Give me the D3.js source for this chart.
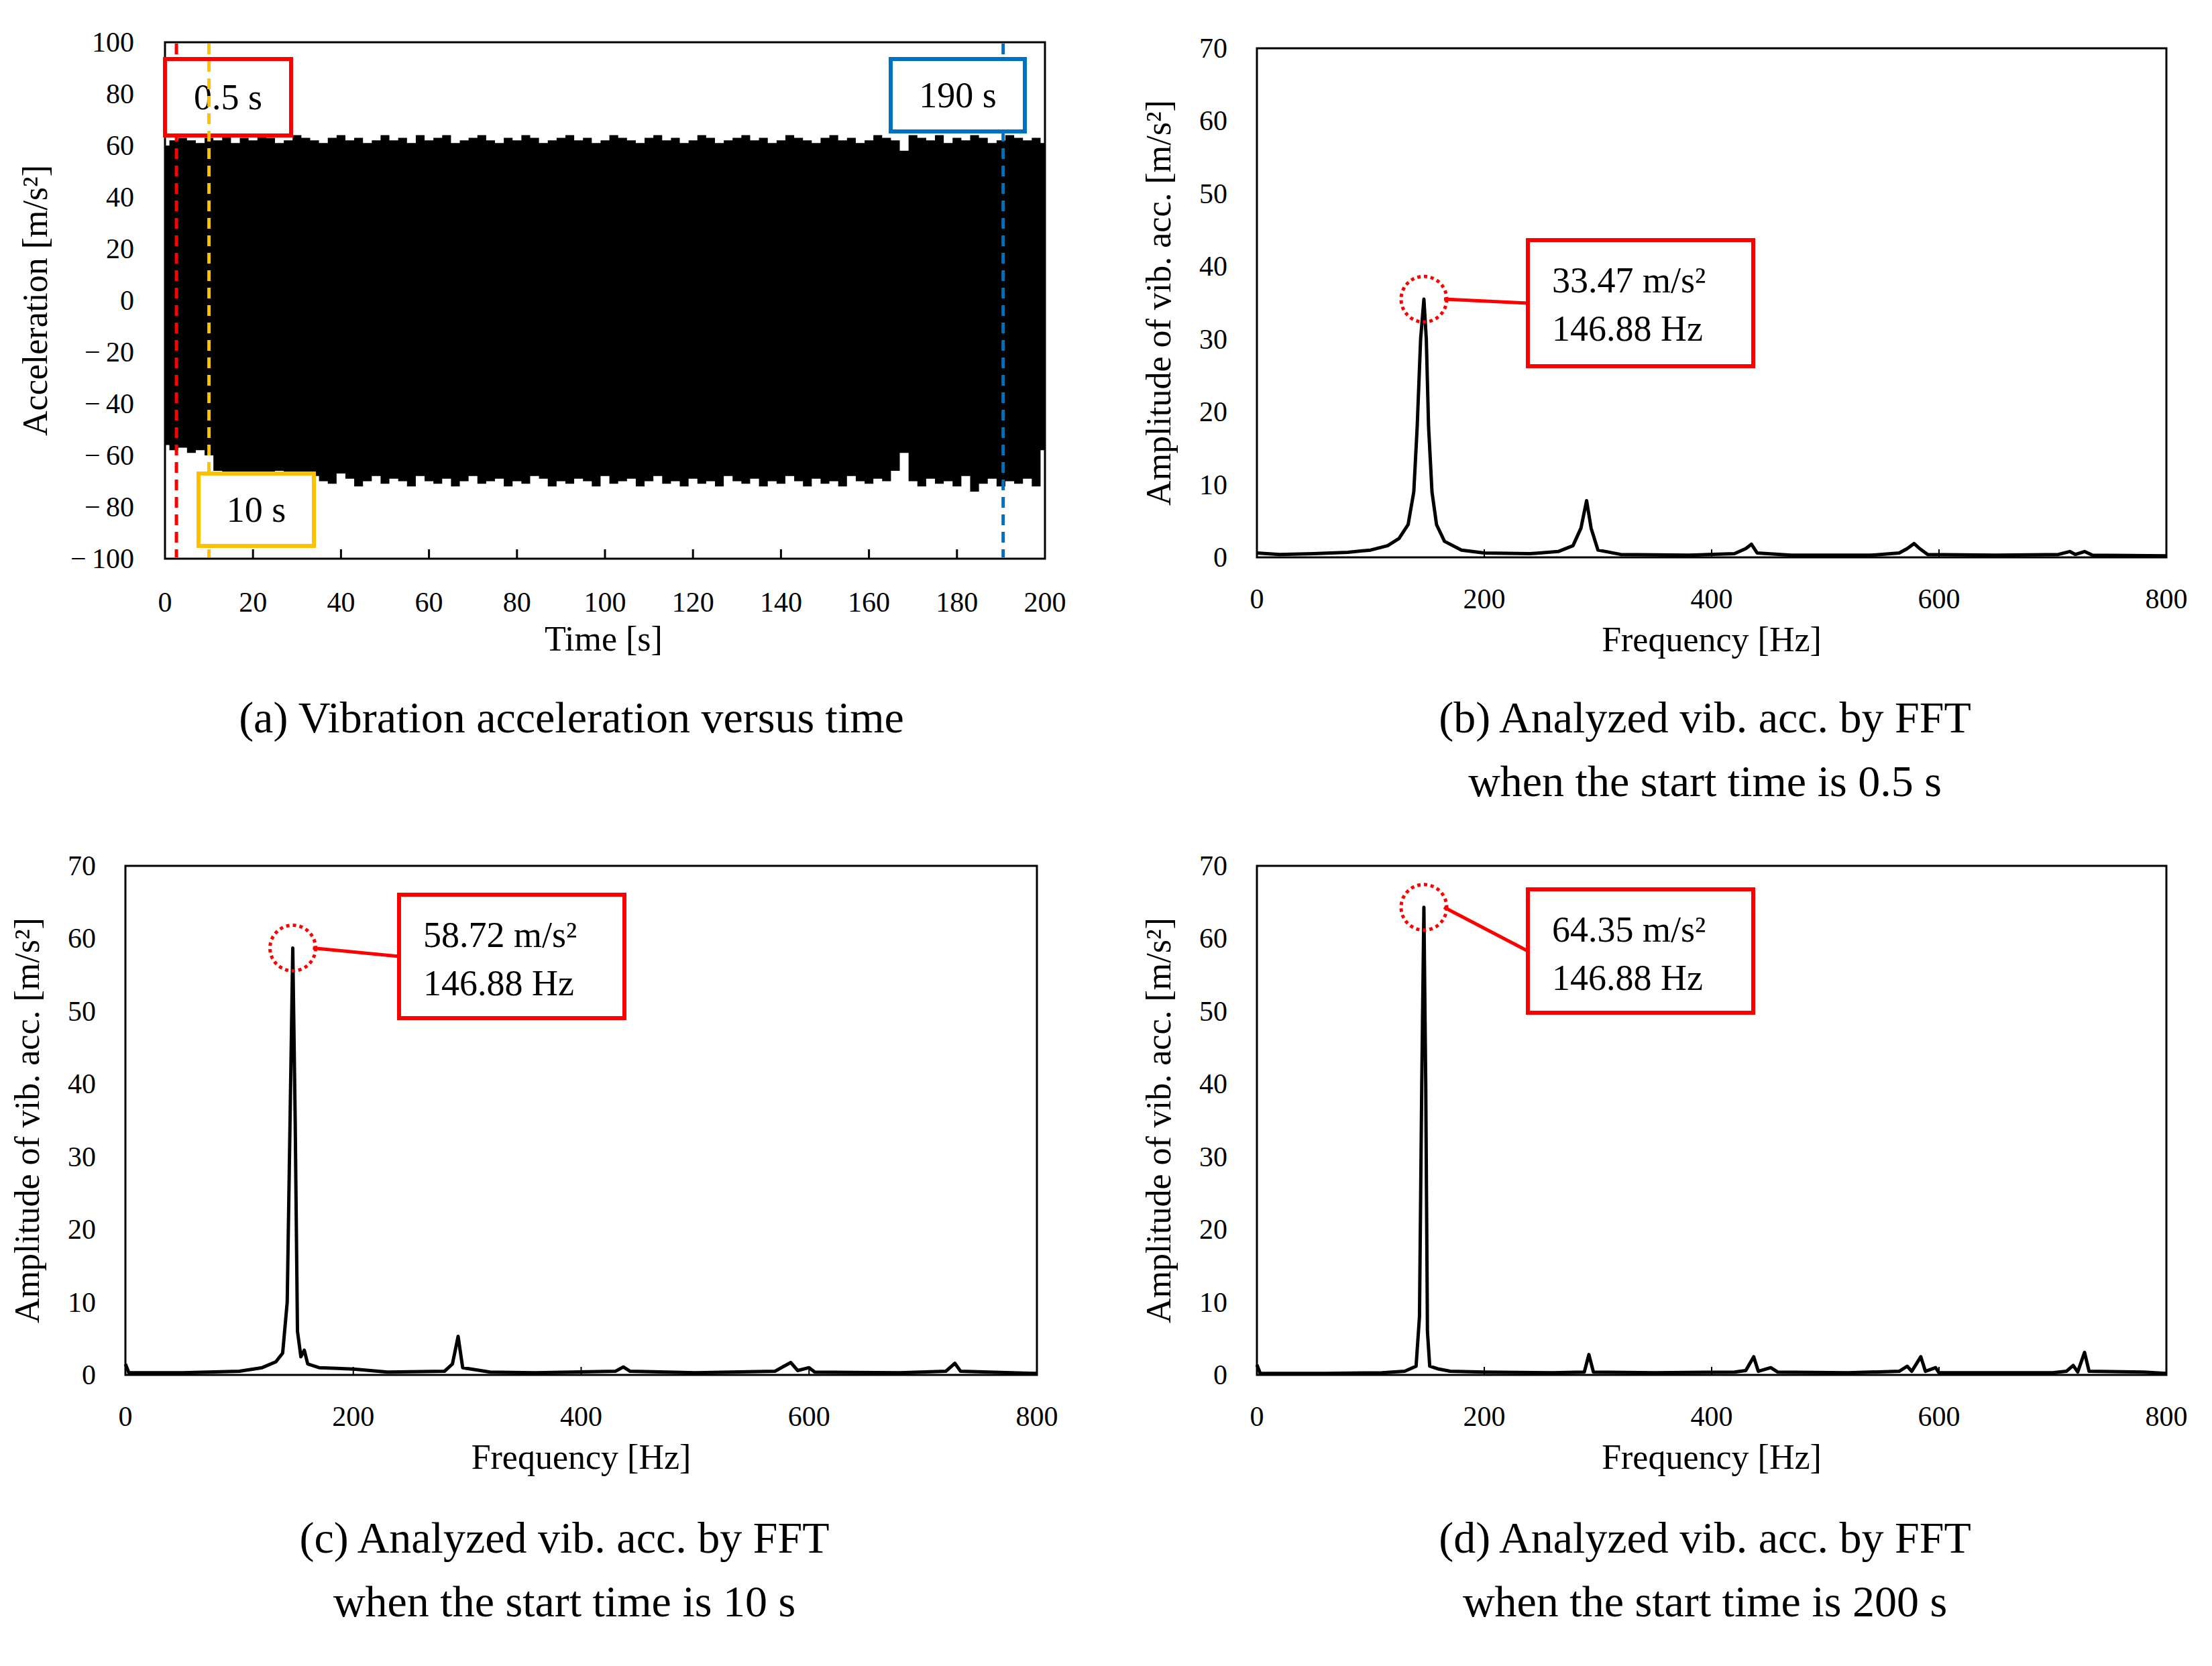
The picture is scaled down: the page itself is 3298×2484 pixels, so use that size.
<!DOCTYPE html>
<html>
<head>
<meta charset="utf-8">
<title>Vibration acceleration and FFT</title>
<script src="https://cdnjs.cloudflare.com/ajax/libs/d3/7.8.5/d3.min.js"></script>
<style>
  body { margin:0; background:#fff; }
  text { font-family:"Liberation Serif","Times New Roman",serif; fill:#000; }
</style>
</head>
<body>
<svg id="chart" width="3298" height="2484"></svg>
<script>
// time signal envelope, every 2 s
var envTime = d3.range(0, 202, 2);
var envUpper = [60,62,63,62,61,63,62,64,61,63,62,64,63,61,62,64,63,62,61,63,64,62,63,61,62,64,62,63,61,64,
  62,63,64,61,62,63,64,62,61,63,62,64,63,61,62,63,64,62,63,61,62,64,63,62,61,63,64,62,63,61,
  62,64,63,61,62,63,64,62,63,61,62,64,63,62,61,63,64,62,63,61,62,64,63,62,58,64,63,62,64,61,
  63,62,64,63,61,62,64,63,62,63,61];
var envLower = [-56,-58,-57,-59,-58,-60,-66,-68,-70,-67,-69,-71,-68,-66,-70,-69,-72,-68,-70,-71,-67,-69,-72,-70,-68,-71,-69,-70,-72,-68,
  -70,-71,-69,-72,-70,-68,-71,-70,-69,-72,-70,-71,-68,-69,-72,-70,-71,-69,-70,-72,-68,-71,-70,-69,-72,-70,-68,-71,-70,-72,
  -69,-71,-70,-72,-68,-70,-71,-69,-72,-70,-71,-68,-70,-72,-69,-71,-70,-72,-68,-70,-71,-69,-70,-66,-59,-70,-72,-69,-71,-70,
  -72,-68,-74,-71,-69,-72,-70,-71,-69,-72,-58];

var markerTimes = [2.6, 10, 190.5];
var markerLabels = ["0.5 s", "10 s", "190 s"];
var markerColors = ["#ff0000", "#ffc000", "#0070c0"];

var specB = [[0,0.6],[20,0.4],[50,0.5],[80,0.7],[100,1.0],[115,1.6],[125,2.6],[133,4.5],[138,9],[141,18],[144,30],[146.88,35.5],[149,30],[151,18],[154,9],[158,4.5],[165,2.2],[180,1],[200,0.6],[240,0.5],[265,0.8],[278,1.6],[285,4],[290,7.8],[294,4],[300,1],[320,0.4],[380,0.3],[420,0.5],[430,1.2],[435,1.8],[440,0.6],[470,0.3],[540,0.3],[565,0.6],[572,1.2],[578,1.9],[583,1.2],[590,0.4],[650,0.3],[705,0.4],[715,0.8],[720,0.4],[728,0.8],[735,0.3],[800,0.2]];
var specC = [[0,1.5],[3,0.3],[50,0.3],[100,0.5],[120,1],[132,1.8],[138,3],[142,10],[145,40],[146.88,58.7],[149,35],[151,6],[154,2.5],[157,3.4],[160,1.5],[170,1],[200,0.8],[230,0.4],[280,0.5],[287,1.5],[292,5.3],[296,1],[320,0.4],[360,0.3],[430,0.5],[437,1.1],[443,0.5],[500,0.3],[570,0.5],[578,1.2],[584,1.7],[590,0.6],[600,1],[605,0.4],[680,0.3],[720,0.5],[728,1.6],[733,0.5],[800,0.2]];
var specD = [[0,1.4],[3,0.2],[60,0.2],[110,0.3],[130,0.5],[140,1.2],[143,8],[145,40],[146.88,64.3],[148.5,40],[150,6],[152,1.2],[160,0.8],[170,0.5],[200,0.4],[260,0.3],[288,0.4],[292,2.8],[296,0.4],[350,0.3],[420,0.4],[430,0.6],[437,2.5],[441,0.5],[452,1],[458,0.4],[520,0.3],[565,0.5],[572,1.2],[576,0.5],[584,2.5],[588,0.5],[597,1],[600,0.3],[700,0.3],[712,0.5],[718,1.3],[722,0.4],[728,3.1],[732,0.5],[780,0.4],[800,0.2]];

var peakLabels = [["33.47 m/s²","146.88 Hz"],["58.72 m/s²","146.88 Hz"],["64.35 m/s²","146.88 Hz"]];
var peakMarks = [[146.88,35.5],[146.88,58.7],[146.88,64.3]];

var svg = d3.select("#chart");
var TICK = 42, TITLE = 52, CAP = 66;

function frame(g, x0, y0, x1, y1){
  g.append("rect").attr("x",x0).attr("y",y0).attr("width",x1-x0).attr("height",y1-y0)
    .attr("fill","none").attr("stroke","#000").attr("stroke-width",3);
}
function caption(lines, cx, y){
  lines.forEach(function(l,i){
    svg.append("text").attr("x",cx).attr("y",y+i*95).attr("text-anchor","middle")
      .attr("font-size",CAP).text(l);
  });
}
function minusFmt(v){ return v<0 ? "\u2212\u2009"+Math.abs(v) : String(v); }

// ---- panel (a)
(function(){
  var L=246,R=1558,T=63,B=833;
  var x=d3.scaleLinear().domain([0,200]).range([L,R]);
  var y=d3.scaleLinear().domain([-100,100]).range([B,T]);
  var g=svg.append("g");
  var area=d3.area().x(function(d,i){return x(envTime[i]);})
    .y0(function(d,i){return y(envLower[i]);}).y1(function(d,i){return y(envUpper[i]);})
    .curve(d3.curveStep);
  g.append("path").datum(envUpper).attr("d",area).attr("fill","#000");
  frame(g,L,T,R,B);
  x.ticks(10).forEach(function(t){
    if(t>0&&t<200) g.append("line").attr("x1",x(t)).attr("x2",x(t)).attr("y1",B).attr("y2",B-14).attr("stroke","#000").attr("stroke-width",3);
    g.append("text").attr("x",x(t)).attr("y",912).attr("text-anchor","middle").attr("font-size",TICK).text(t);
  });
  y.ticks(10).forEach(function(t){
    g.append("text").attr("x",200).attr("y",y(t)+14).attr("text-anchor","end").attr("font-size",TICK).text(minusFmt(t));
  });
  g.append("text").attr("x",900).attr("y",970).attr("text-anchor","middle").attr("font-size",TITLE).text("Time [s]");
  g.append("text").attr("transform","translate(70,"+((T+B)/2)+") rotate(-90)").attr("text-anchor","middle").attr("font-size",TITLE).text("Acceleration [m/s²]");
  var boxes=[[246,88,188,114],[296,706,172,108],[1328,88,200,108]];
  markerTimes.forEach(function(t,i){
    g.append("line").attr("x1",x(t)).attr("x2",x(t)).attr("y1",T+2).attr("y2",B-2)
      .attr("stroke",markerColors[i]).attr("stroke-width",5).attr("stroke-dasharray","16,10");
    var b=boxes[i];
    g.append("rect").attr("x",b[0]).attr("y",b[1]).attr("width",b[2]).attr("height",b[3])
      .attr("fill","#fff").attr("stroke",markerColors[i]).attr("stroke-width",6);
    g.append("text").attr("x",b[0]+b[2]/2).attr("y",b[1]+b[3]/2+18).attr("text-anchor","middle").attr("font-size",54).text(markerLabels[i]);
  });
  caption(["(a) Vibration acceleration versus time"],852,1092);
})();

// ---- FFT panels
function spectrum(data, L, R, T, B, titleX, yLabelRight, peak, labels, box, capLines, capY){
  var x=d3.scaleLinear().domain([0,800]).range([L,R]);
  var y=d3.scaleLinear().domain([0,70]).range([B,T]);
  var g=svg.append("g");
  frame(g,L,T,R,B);
  x.ticks(4).forEach(function(t){
    if(t>0&&t<800) g.append("line").attr("x1",x(t)).attr("x2",x(t)).attr("y1",B).attr("y2",B-12).attr("stroke","#000").attr("stroke-width",2);
    g.append("text").attr("x",x(t)).attr("y",B+76).attr("text-anchor","middle").attr("font-size",TICK).text(t);
  });
  y.ticks(7).forEach(function(t){
    g.append("text").attr("x",yLabelRight).attr("y",y(t)+14).attr("text-anchor","end").attr("font-size",TICK).text(t);
  });
  g.append("path").datum(data)
    .attr("d",d3.line().x(function(d){return x(d[0]);}).y(function(d){return y(d[1]);}))
    .attr("fill","none").attr("stroke","#000").attr("stroke-width",5).attr("stroke-linejoin","round");
  g.append("text").attr("x",(L+R)/2).attr("y",B+140).attr("text-anchor","middle").attr("font-size",TITLE).text("Frequency [Hz]");
  g.append("text").attr("transform","translate("+titleX+","+((T+B)/2)+") rotate(-90)").attr("text-anchor","middle").attr("font-size",TITLE).text("Amplitude of vib. acc. [m/s²]");
  var cx=x(peak[0]), cy=y(peak[1]);
  g.append("line").attr("x1",cx+30).attr("y1",cy).attr("x2",box[0]).attr("y2",box[1]+box[3]/2)
    .attr("stroke","#ff0000").attr("stroke-width",5);
  g.append("circle").attr("cx",cx).attr("cy",cy).attr("r",34).attr("fill","none")
    .attr("stroke","#ff0000").attr("stroke-width",5).attr("stroke-dasharray","5,5");
  g.append("rect").attr("x",box[0]).attr("y",box[1]).attr("width",box[2]).attr("height",box[3])
    .attr("fill","#fff").attr("stroke","#ff0000").attr("stroke-width",6);
  labels.forEach(function(l,i){
    g.append("text").attr("x",box[0]+36).attr("y",box[1]+78+i*72).attr("font-size",54).text(l);
  });
  caption(capLines,(L+R)/2+(titleX<200?-25:-10),capY);
}

spectrum(specB,1874,3230,72,831,1745,1830,peakMarks[0],peakLabels[0],[2278,358,336,188],
  ["(b) Analyzed vib. acc. by FFT","when the start time is 0.5 s"],1092);
spectrum(specC,187,1546,1291,2050,58,143,peakMarks[1],peakLabels[1],[595,1334,336,184],
  ["(c) Analyzed vib. acc. by FFT","when the start time is 10 s"],2315);
spectrum(specD,1874,3230,1291,2050,1745,1830,peakMarks[2],peakLabels[2],[2278,1326,336,184],
  ["(d) Analyzed vib. acc. by FFT","when the start time is 200 s"],2315);
</script>
</body>
</html>
